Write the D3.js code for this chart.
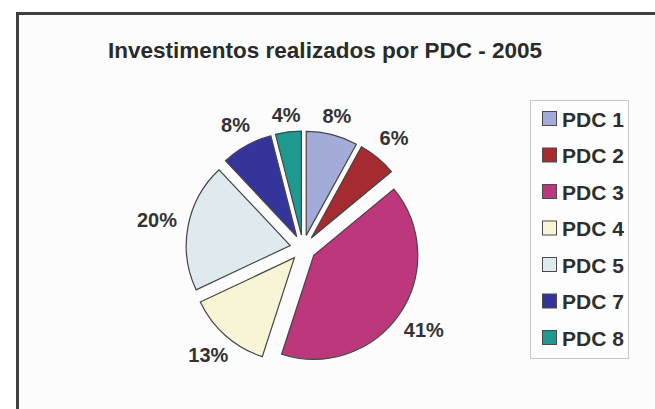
<!DOCTYPE html>
<html>
<head>
<meta charset="utf-8">
<script src="https://cdn.jsdelivr.net/npm/d3@7"></script>
<style>
  html, body { margin: 0; padding: 0; background: #ffffff; }
  svg { display: block; }
</style>
</head>
<body>
<svg id="chart" width="655" height="409"></svg>
<script>
// Investment share per PDC, 2005 (percent)
const categories = ["PDC 1", "PDC 2", "PDC 3", "PDC 4", "PDC 5", "PDC 7", "PDC 8"];
const values = [8, 6, 41, 13, 20, 8, 4];
const colors = ["#a3acd9", "#a52b30", "#bc377c", "#f8f4d6", "#dfeaef", "#34349a", "#1d9990"];
const title = "Investimentos realizados por PDC - 2005";

const svg = d3.select("#chart");
const W = 655, H = 409;
const font = "'Liberation Sans', Arial, sans-serif";

// chart area frame (runs off the right and bottom edges)
svg.append("rect").attr("x", 0).attr("y", 0).attr("width", W).attr("height", H).attr("fill", "#ffffff");
svg.append("rect")
  .attr("x", 17.5).attr("y", 13.5).attr("width", W + 20).attr("height", H + 20)
  .attr("fill", "#fcfcfc").attr("stroke", "#3f3f3f").attr("stroke-width", 3);

svg.append("text")
  .attr("x", 325).attr("y", 58)
  .attr("text-anchor", "middle")
  .attr("font-family", font).attr("font-weight", "bold").attr("font-size", 22.5)
  .attr("fill", "#2a2a2a")
  .text(title);

// exploded pie
const cx = 303, cy = 248, r = 104, explode = 13;
const data = categories.map((c, i) => ({ cat: c, value: values[i], color: colors[i] }));
const pie = d3.pie().value(d => d.value).sort(null);
const arc = d3.arc().innerRadius(0).outerRadius(r);
const arcs = pie(data);

const g = svg.append("g").attr("transform", `translate(${cx},${cy})`);

g.selectAll("path.slice")
  .data(arcs)
  .join("path")
  .attr("class", "slice")
  .attr("transform", d => {
    const a = (d.startAngle + d.endAngle) / 2;
    return `translate(${explode * Math.sin(a)},${-explode * Math.cos(a)})`;
  })
  .attr("d", arc)
  .attr("fill", d => d.data.color)
  .attr("stroke", "#454545")
  .attr("stroke-width", 1.2)
  .attr("stroke-linejoin", "miter");

const total = d3.sum(values);
g.selectAll("text.lbl")
  .data(arcs)
  .join("text")
  .attr("class", "lbl")
  .each(function (d) {
    const a = (d.startAngle + d.endAngle) / 2;
    const dist = 132 + 17 * Math.abs(Math.sin(a));
    d3.select(this)
      .attr("x", dist * Math.sin(a))
      .attr("y", -dist * Math.cos(a));
  })
  .attr("text-anchor", "middle")
  .attr("dominant-baseline", "central")
  .attr("font-family", font).attr("font-weight", "bold").attr("font-size", 20)
  .attr("fill", "#333333")
  .text(d => Math.round(d.data.value / total * 100) + "%");

// legend
const lg = svg.append("g");
lg.append("rect")
  .attr("x", 530.5).attr("y", 100.5).attr("width", 98).attr("height", 258)
  .attr("fill", "#fdfdfd").attr("stroke", "#c8c8c8").attr("stroke-width", 1);

const rowY = d3.scalePoint().domain(categories).range([118, 337]);
const items = lg.selectAll("g.item").data(data).join("g").attr("class", "item")
  .attr("transform", d => `translate(0,${rowY(d.cat)})`);
items.append("rect")
  .attr("x", 542.5).attr("y", -6.5).attr("width", 14).attr("height", 14)
  .attr("fill", d => d.color).attr("stroke", "#4a4a4a").attr("stroke-width", 1);
items.append("text")
  .attr("x", 562).attr("y", 1)
  .attr("dominant-baseline", "central")
  .attr("font-family", font).attr("font-weight", "bold").attr("font-size", 21)
  .attr("fill", "#2e2e2e")
  .text(d => d.cat);
</script>
</body>
</html>
